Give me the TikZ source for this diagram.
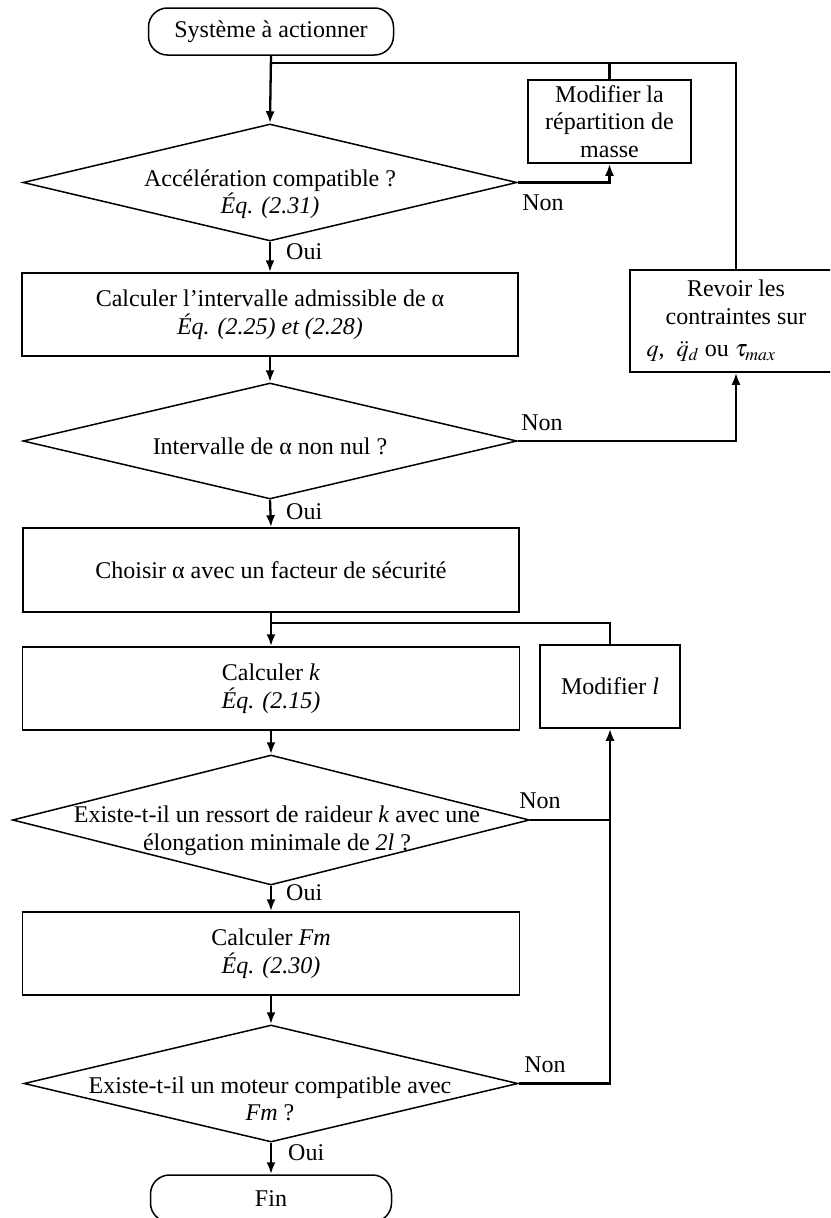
\documentclass[tikz,border=0pt]{standalone}
\usepackage{mathptmx}
\usepackage{fontspec}
\setmainfont{Liberation Serif}
\usetikzlibrary{shapes.geometric,arrows.meta}

\begin{document}
\begin{tikzpicture}[x=1pt,y=-1pt,
  font=\fontsize{24}{27.5}\selectfont,
  box/.style={draw,line width=1.5pt,align=center,inner sep=0pt},
  term/.style={box,rounded corners=19pt,minimum height=47pt},
  dec/.style={draw,shape=diamond,line width=1.5pt,inner sep=0pt},
  flow/.style={line width=2.3pt,-{Latex[length=12pt,width=9pt]}},
  wire/.style={line width=2.3pt},
  lbl/.style={inner sep=0pt}]
\clip (0,0) rectangle (830,1218);

% main column
\node[term,minimum width=245pt] (start) at (271,31.5) {Système à actionner};
\node[dec,minimum width=494pt,minimum height=117pt] (acc) at (270,182.5) {};
\node[lbl,align=center] (acctxt) at (270,194) {Accélération compatible ?\\\textit{Éq. (2.31)}};
\node[box,minimum width=496pt,minimum height=83pt] (interv) at (270,314.5)
  {Calculer l’intervalle admissible de α\\\textit{Éq. (2.25) et (2.28)}};
\node[dec,minimum width=494pt,minimum height=116pt] (nonnul) at (270,441) {};
\node[lbl] (nonnultxt) at (270,446) {Intervalle de α non nul ?};
\node[box,minimum width=496pt,minimum height=84pt] (choix) at (271,570)
  {Choisir α avec un facteur de sécurité};
\node[box,minimum width=497pt,minimum height=83pt] (calck) at (271,688.5)
  {Calculer \textit{k}\\\textit{Éq. (2.15)}};
\node[dec,minimum width=517pt,minimum height=130pt] (ressort) at (271,820) {};
\node[lbl,align=center] (ressorttxt) at (277,831)
  {Existe-t-il un ressort de raideur \textit{k} avec une\\élongation minimale de \textit{2l} ?};
\node[box,minimum width=497pt,minimum height=83pt] (calcfm) at (271,953.5)
  {Calculer \textit{Fm}\\\textit{Éq. (2.30)}};
\node[dec,minimum width=494pt,minimum height=117pt] (moteur) at (271,1083.5) {};
\node[lbl,align=center] (moteurtxt) at (270,1099)
  {Existe-t-il un moteur compatible avec\\\textit{Fm} ?};
\node[term,minimum width=241pt] (fin) at (271,1198.5) {Fin};

% side boxes
\node[box,minimum width=163pt,minimum height=83pt] (masse) at (609.5,121.5)
  {Modifier la\\répartition de\\masse};
\node[box,minimum width=212pt,minimum height=102pt] (revoir) at (736,321)
  {Revoir les\\contraintes sur\\[5pt]$q$,\ \ $\ddot{q}_d$\ ou\ $\tau_{max}$\hspace*{50pt}};
\node[box,minimum width=140pt,minimum height=83pt] (modl) at (610,686.5)
  {Modifier \textit{l}};

\coordinate (j1) at (271,63);
\coordinate (j2) at (271,623);

% connectors
\draw[flow] (start.south) -- (acc.north);
\draw[wire] (revoir.north) |- (j1);
\draw[wire] (masse.north) -- (masse.north |- j1);
\draw[flow] (acc.east) -| (masse.south);
\draw[flow] (acc.south) -- (interv.north);
\draw[flow] (interv.south) -- (nonnul.north);
\draw[flow] (nonnul.east) -| (revoir.south);
\draw[flow] (nonnul.south) -- (choix.north);
\draw[flow] (choix.south) -- (calck.north);
\draw[wire] (modl.north) |- (j2);
\draw[flow] (calck.south) -- (ressort.north);
\draw[wire] (ressort.east) -- (ressort.east -| modl.south);
\draw[flow] (moteur.east) -| (modl.south);
\draw[flow] (ressort.south) -- (calcfm.north);
\draw[flow] (calcfm.south) -- (moteur.north);
\draw[flow] (moteur.south) -- (fin.north);

% labels
\node[lbl] (non1) at (543,203) {Non};
\node[lbl] (non2) at (542,423) {Non};
\node[lbl] (non3) at (540,801) {Non};
\node[lbl] (non4) at (545,1065) {Non};
\node[lbl,anchor=west] (oui1) at (286,252) {Oui};
\node[lbl,anchor=west] (oui2) at (286,512) {Oui};
\node[lbl,anchor=west] (oui3) at (286,893) {Oui};
\node[lbl,anchor=west] (oui4) at (288,1153) {Oui};
\end{tikzpicture}
\end{document}
